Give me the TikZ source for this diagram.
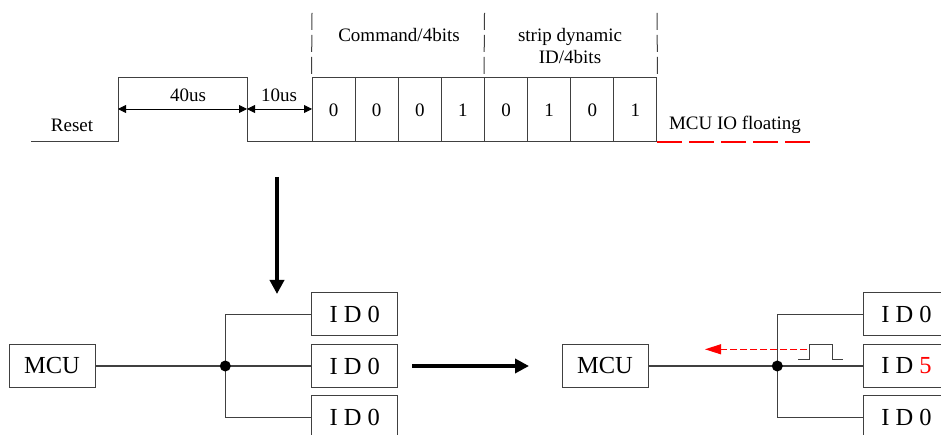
\documentclass[tikz,border=0pt]{standalone}
\usepackage{fontspec}
\setmainfont{Liberation Serif}
\usetikzlibrary{arrows.meta}
\definecolor{ln}{HTML}{404040}
\definecolor{rd}{HTML}{FF0000}
\tikzset{
  small/.style={font=\fontsize{19}{22}\selectfont},
  big/.style={font=\fontsize{24.5}{28}\selectfont},
  bitbox/.style={draw=ln, line width=1pt, minimum width=43.1pt, minimum height=64pt, inner sep=0pt, small},
  idbox/.style={draw=ln, line width=1pt, minimum width=86pt, minimum height=43.4pt, inner sep=0pt, big},
  wire/.style={draw=ln, line width=1.1pt},
  dimarrow/.style={line width=0.9pt, {Triangle[length=8pt,width=8pt]}-{Triangle[length=8pt,width=8pt]}},
  bigarrow/.style={line width=4pt, -{Triangle[length=14pt,width=14pt]}},
  vdash/.style={draw=ln, line width=1pt, dash pattern=on 17pt off 5pt},
  dot/.style={circle, fill=black, minimum size=11pt, inner sep=0pt},
}
\begin{document}
\begin{tikzpicture}[x=1pt,y=-1pt]
\useasboundingbox (0,0) rectangle (941,435);
% --- top waveform
\coordinate (w0) at (31,142);
\coordinate (w1) at (118,142);
\coordinate (w2) at (118,78);
\coordinate (w3) at (247,78);
\coordinate (w4) at (247,142);
\coordinate (w5) at (657,142);
\coordinate (w6) at (813,142);
\draw[ln, line width=1pt] (w0) -- (w1) -- (w2) -- (w3) -- (w4) -- (w5);
\draw[rd, line width=1.3pt, dash pattern=on 25pt off 7pt] (w5) -- (w6);
% bits
\foreach \i/\v in {1/0,2/0,3/0,4/1,5/0,6/1,7/0,8/1}{
  \node[bitbox] (b\i) at ({312+43.125*(\i-0.5)},110) {\v};
}
% dashed separators
\coordinate (d1) at (312,13);
\coordinate (d2) at (484.5,13);
\coordinate (d3) at (657,13);
\draw[vdash] (d1) -- (b1.north west);
\draw[vdash] (d2) -- (b5.north west);
\draw[vdash] (d3) -- (b8.north east);
% labels
\node[small] (reset) at (72,125) {Reset};
\node[small] (t40) at (188,95) {40us};
\node[small] (t10) at (279,95) {10us};
\node[small] (cmd) at (399,35) {Command/4bits};
\node[small, align=center] (sid) at (570,46) {strip dynamic\\ID/4bits};
\node[small] (flt) at (735,125) {MCU IO floating};
% dimension arrows
\coordinate (m1) at (118,109);
\coordinate (m2) at (247,109);
\coordinate (m3) at (312,109);
\draw[dimarrow] (m1) -- (m2);
\draw[dimarrow] (m2) -- (m3);
% big arrows
\coordinate (a1) at (277,177);
\coordinate (a2) at (277,294);
\draw[bigarrow] (a1) -- (a2);
\coordinate (a3) at (412,366);
\coordinate (a4) at (529,366);
\draw[bigarrow] (a3) -- (a4);
% --- bottom left
\node[idbox] (mcuL) at (52,366) {MCU};
\coordinate (jL) at (225.3,366);
\node[idbox] (idL1) at (354.7,314.2) {I D 0};
\node[idbox] (idL2) at (354.7,366) {I D 0};
\node[idbox] (idL3) at (354.7,417.6) {I D 0};
\draw[wire] (mcuL.east) -- (jL) -- (idL2.west);
\draw[wire] (idL1.west) -| (jL) |- (idL3.west);
\node[dot] (jLdot) at (jL) {};
% --- bottom right
\node[idbox] (mcuR) at (605,366) {MCU};
\coordinate (jR) at (777.3,366);
\node[idbox] (idR1) at (906.5,314.2) {I D 0};
\node[idbox] (idR2) at (906.5,366) {I D \textcolor{rd}{5}};
\node[idbox] (idR3) at (906.5,417.6) {I D 0};
\draw[wire] (mcuR.east) -- (jR) -- (idR2.west);
\draw[wire] (idR1.west) -| (jR) |- (idR3.west);
\node[dot] (jRdot) at (jR) {};
% pulse
\coordinate (p0) at (798,359);
\coordinate (p1) at (809.3,359);
\coordinate (p2) at (809.3,344.3);
\coordinate (p3) at (832.3,344.3);
\coordinate (p4) at (832.3,359);
\coordinate (p5) at (843.3,359);
\draw[ln, line width=1pt] (p0) -- (p1) -- (p2) -- (p3) -- (p4) -- (p5);
% red dashed arrow
\coordinate (r1) at (807,349.3);
\coordinate (r2) at (705,349.3);
\draw[rd, line width=1pt, dash pattern=on 7pt off 3pt, -{Triangle[length=16pt,width=10pt]}] (r1) -- (r2);
\end{tikzpicture}
\end{document}
